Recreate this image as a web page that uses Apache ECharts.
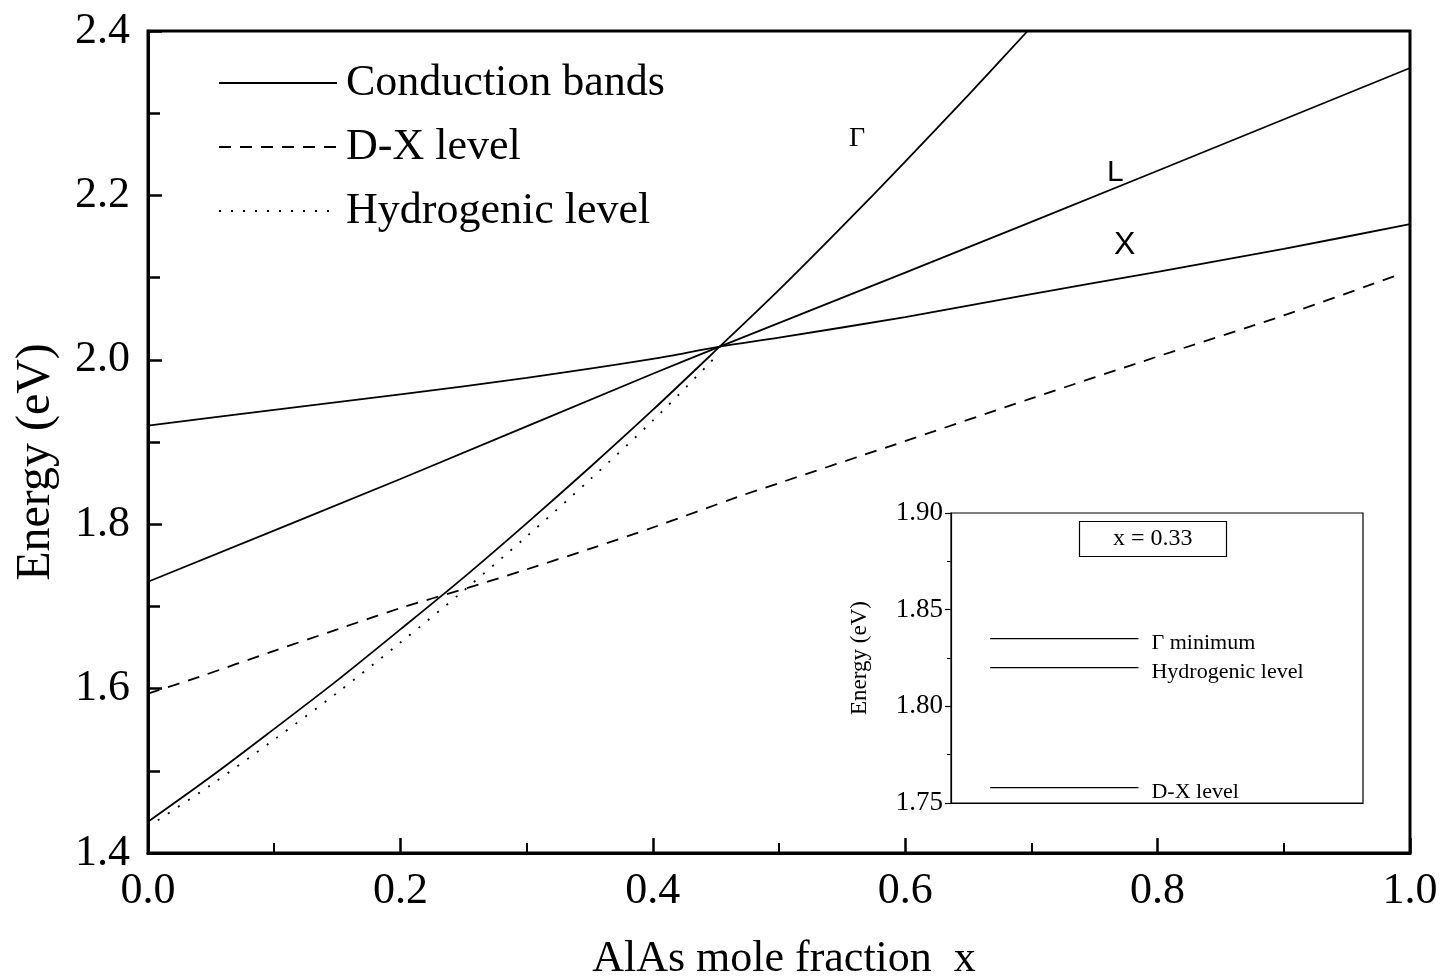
<!DOCTYPE html>
<html><head><meta charset="utf-8">
<script src="https://cdn.jsdelivr.net/npm/echarts@6/dist/echarts.min.js"></script>
<style>html,body{margin:0;padding:0;background:#fff}#c{width:1445px;height:980px}</style>
</head><body><div id="c"></div>
<script>
// ---- data ----
const xGamma = [0, 0.05, 0.1, 0.15, 0.2, 0.25, 0.3, 0.35, 0.4, 0.453, 0.5, 0.55, 0.6, 0.65, 0.697];
const eGamma = [1.438, 1.493, 1.551, 1.610, 1.672, 1.735, 1.801, 1.869, 1.939, 2.016, 2.085, 2.162, 2.241, 2.322, 2.40];
const xL = [0, 0.2, 0.4, 0.453, 0.6, 0.8, 1.0];
const eL = [1.73, 1.855, 1.983, 2.016, 2.106, 2.230, 2.355];
const xX = [0, 0.1, 0.2, 0.3, 0.4, 0.453, 0.5, 0.6, 0.7, 0.8, 0.9, 1.0];
const eX = [1.92, 1.939, 1.958, 1.978, 2.001, 2.016, 2.027, 2.052, 2.08, 2.107, 2.135, 2.165];
const xDX = [0, 0.04, 0.1, 0.15, 0.2, 0.25, 0.3, 0.35, 0.4, 0.467, 0.5, 0.59, 0.7, 0.8, 0.9, 0.99];
const eDX = [1.594, 1.614, 1.646, 1.672, 1.698, 1.721, 1.745, 1.77, 1.796, 1.833, 1.85, 1.896, 1.953, 2.004, 2.054, 2.103];
const xHyd = [0, 0.05, 0.1, 0.15, 0.2, 0.25, 0.3, 0.35, 0.4, 0.45];
const eHyd = [1.432, 1.483, 1.538, 1.595, 1.656, 1.719, 1.785, 1.854, 1.926, 2.004];
const xTicks = [0, 0.2, 0.4, 0.6, 0.8, 1.0];
const yTicks = [1.4, 1.6, 1.8, 2.0, 2.2, 2.4];
// inset (x = 0.33)
const insetNames = ['Γ minimum', 'Hydrogenic level', 'D-X level'];
const insetLevels = [1.835, 1.820, 1.758];
const insetSpan = [0.095, 0.455];
const insetTicks = [1.75, 1.80, 1.85, 1.90];

const zip = (a, b) => a.map((v, i) => [v, b[i]]);
const SERIF = 'Liberation Serif';

const chart = echarts.init(document.getElementById('c'), null, {renderer: 'canvas'});

const mainLine = (name, xs, ys, type) => ({
  name, type: 'line', xAxisIndex: 0, yAxisIndex: 0,
  data: zip(xs, ys), smooth: 0.3, symbol: 'none', silent: true,
  lineStyle: {color: '#000', width: 1.8, type: type || 'solid'},
  itemStyle: {color: '#000'}
});

const series = [
  mainLine('Conduction bands', xGamma, eGamma),
  mainLine('L band', xL, eL),
  mainLine('X band', xX, eX),
  mainLine('D-X level', xDX, eDX, [12, 9]),
  mainLine('Hydrogenic level', xHyd, eHyd, [2, 10])
];
insetNames.forEach((n, i) => {
  series.push({
    name: n, type: 'line', xAxisIndex: 1, yAxisIndex: 1, symbol: 'none', silent: true,
    data: insetSpan.map(x => [x, insetLevels[i]]),
    lineStyle: {color: '#000', width: 1.2},
    endLabel: {show: true, formatter: n, distance: 13, offset: [0, 5],
      fontFamily: SERIF, fontSize: 22, color: '#000'}
  });
});

const option = {
  backgroundColor: '#fff',
  animation: false,
  grid: [
    {left: 148, top: 31, width: 1262, height: 822, show: true, borderColor: '#000', borderWidth: 3,
      containLabel: false, outerBoundsMode: 'none'},
    {left: 951, top: 513, width: 412, height: 290, show: true, borderColor: '#000', borderWidth: 1.2, z: 3,
      containLabel: false, outerBoundsMode: 'none'}
  ],
  legend: {
    data: ['Conduction bands', 'D-X level', 'Hydrogenic level'],
    orient: 'vertical', left: 213, top: 56, padding: 5,
    itemWidth: 118, itemHeight: 14, itemGap: 20,
    itemStyle: {opacity: 0},
    textStyle: {fontFamily: SERIF, fontSize: 44, color: '#000', lineHeight: 44, padding: [0, 0, 0, 4]},
    selectedMode: false
  },
  title: [
    {text: 'x = 0.33', left: 1079, top: 521, padding: [6, 34, 6, 34],
      borderColor: '#000', borderWidth: 1.2,
      textStyle: {fontFamily: SERIF, fontSize: 24, fontWeight: 'normal', color: '#000'}}
  ],
  graphic: [
    {type: 'text', left: 849, top: 125, style: {text: 'Γ', font: '28px "Liberation Serif"', fill: '#000'}},
    {type: 'text', left: 1107, top: 158, style: {text: 'L', font: '30px "Liberation Sans"', fill: '#000'}},
    {type: 'text', left: 1114, top: 229, style: {text: 'X', font: '32px "Liberation Sans"', fill: '#000'}}
  ],
  xAxis: [
    {type: 'value', gridIndex: 0, min: 0, max: 1, interval: 0.2,
      name: 'AlAs mole fraction  x', nameLocation: 'middle', nameGap: 84,
      nameTextStyle: {fontFamily: SERIF, fontSize: 44, color: '#000', padding: [0, 0, 0, 10]},
      axisLine: {lineStyle: {color: '#000', width: 3}},
      axisTick: {inside: true, length: 15, lineStyle: {width: 2.5}},
      minorTick: {show: true, splitNumber: 2, length: 10, lineStyle: {color: '#000', width: 2}},
      splitLine: {show: false},
      axisLabel: {formatter: v => v.toFixed(1), fontFamily: SERIF, fontSize: 44, color: '#000', margin: 16,
        customValues: xTicks}
    },
    {type: 'value', gridIndex: 1, min: 0, max: 1,
      axisLine: {lineStyle: {color: '#000', width: 1.2}},
      axisTick: {show: false}, axisLabel: {show: false}, splitLine: {show: false}}
  ],
  yAxis: [
    {type: 'value', gridIndex: 0, min: 1.4, max: 2.4, interval: 0.2,
      name: 'Energy (eV)', nameLocation: 'middle', nameGap: 88, nameRotate: 90,
      nameTextStyle: {fontFamily: SERIF, fontSize: 48, color: '#000', padding: [0, 40, 0, 0]},
      axisLine: {lineStyle: {color: '#000', width: 3}},
      axisTick: {inside: true, length: 14, lineStyle: {width: 2.5}},
      minorTick: {show: true, splitNumber: 2, length: 12, lineStyle: {color: '#000', width: 2.5}},
      splitLine: {show: false},
      axisLabel: {formatter: v => v.toFixed(1), fontFamily: SERIF, fontSize: 44, color: '#000', margin: 18,
        customValues: yTicks}
    },
    {type: 'value', gridIndex: 1, min: 1.75, max: 1.90, interval: 0.05,
      name: 'Energy (eV)', nameLocation: 'middle', nameGap: 80, nameRotate: 90,
      nameTextStyle: {fontFamily: SERIF, fontSize: 23, color: '#000'},
      axisLine: {lineStyle: {color: '#000', width: 1.2}},
      axisTick: {inside: false, length: 6, lineStyle: {width: 1.2}},
      minorTick: {show: true, splitNumber: 2, length: 4, lineStyle: {color: '#000', width: 1}},
      splitLine: {show: false},
      axisLabel: {formatter: v => v.toFixed(2), fontFamily: SERIF, fontSize: 27, color: '#000', margin: 8,
        customValues: insetTicks}
    }
  ],
  series
};
chart.setOption(option);
</script>
</body></html>
